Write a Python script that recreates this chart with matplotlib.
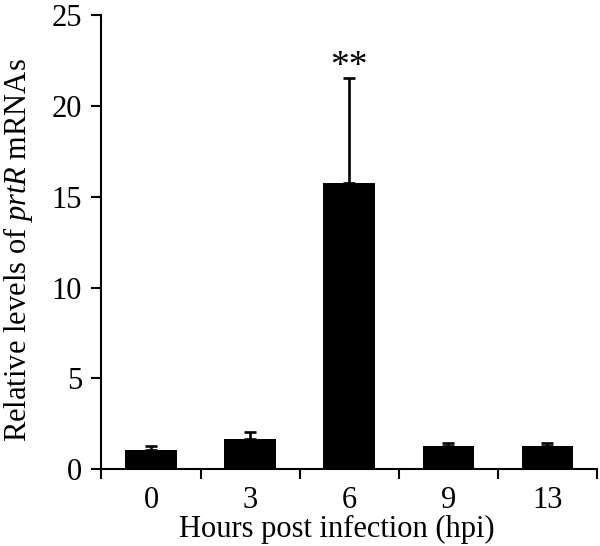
import matplotlib
matplotlib.use("Agg")
import matplotlib.pyplot as plt
import numpy as np

categories = ["0", "3", "6", "9", "13"]
values = [1.05, 1.63, 15.75, 1.28, 1.28]
errors = [0.22, 0.42, 5.8, 0.13, 0.13]
yticks = [0, 5, 10, 15, 20, 25]

plt.rcParams['font.family'] = ['Liberation Serif', 'DejaVu Serif']
plt.rcParams['mathtext.fontset'] = 'custom'
plt.rcParams['mathtext.rm'] = 'Liberation Serif'
plt.rcParams['mathtext.it'] = 'Liberation Serif:italic'

fig = plt.figure(figsize=(6.0, 5.46), dpi=100)
ax = fig.add_axes([0.169, 0.141, 0.826, 0.831])

x = np.arange(len(categories))
ax.bar(x, values, width=0.52, color='black', zorder=2)
ax.errorbar(x, values, yerr=[np.zeros(len(errors)), errors], fmt='none',
            ecolor='black', elinewidth=1.9, capsize=4.5, capthick=1.9, zorder=3)

ax.text(x[2], values[2] + errors[2] + 0.6, "**", ha='center', va='center', fontsize=27)

ax.set_xlim(-0.5, len(categories) - 0.5)
ax.set_ylim(0, 25)
ax.set_yticks(yticks)
ax.set_xticks(x)
ax.set_xticklabels(categories)
ax.set_xticks(np.arange(-0.5, len(categories), 1.0), minor=True)
ax.tick_params(axis='x', which='major', length=0, labelsize=22, pad=12)
ax.tick_params(axis='x', which='minor', length=7, width=1.5, direction='out')
ax.tick_params(axis='y', length=7, width=1.5, direction='out', labelsize=22, pad=7)

for s in ['top', 'right']:
    ax.spines[s].set_visible(False)
for s in ['left', 'bottom']:
    ax.spines[s].set_linewidth(1.5)

ax.set_xlabel("Hours post infection (hpi)", fontsize=22, labelpad=4)
ax.xaxis.set_label_coords(0.476, -0.102)
ax.set_ylabel("Relative levels of $\\mathit{prtR}$ mRNAs", fontsize=22, labelpad=12, y=0.483)

fig.savefig("out.png", dpi=100)
